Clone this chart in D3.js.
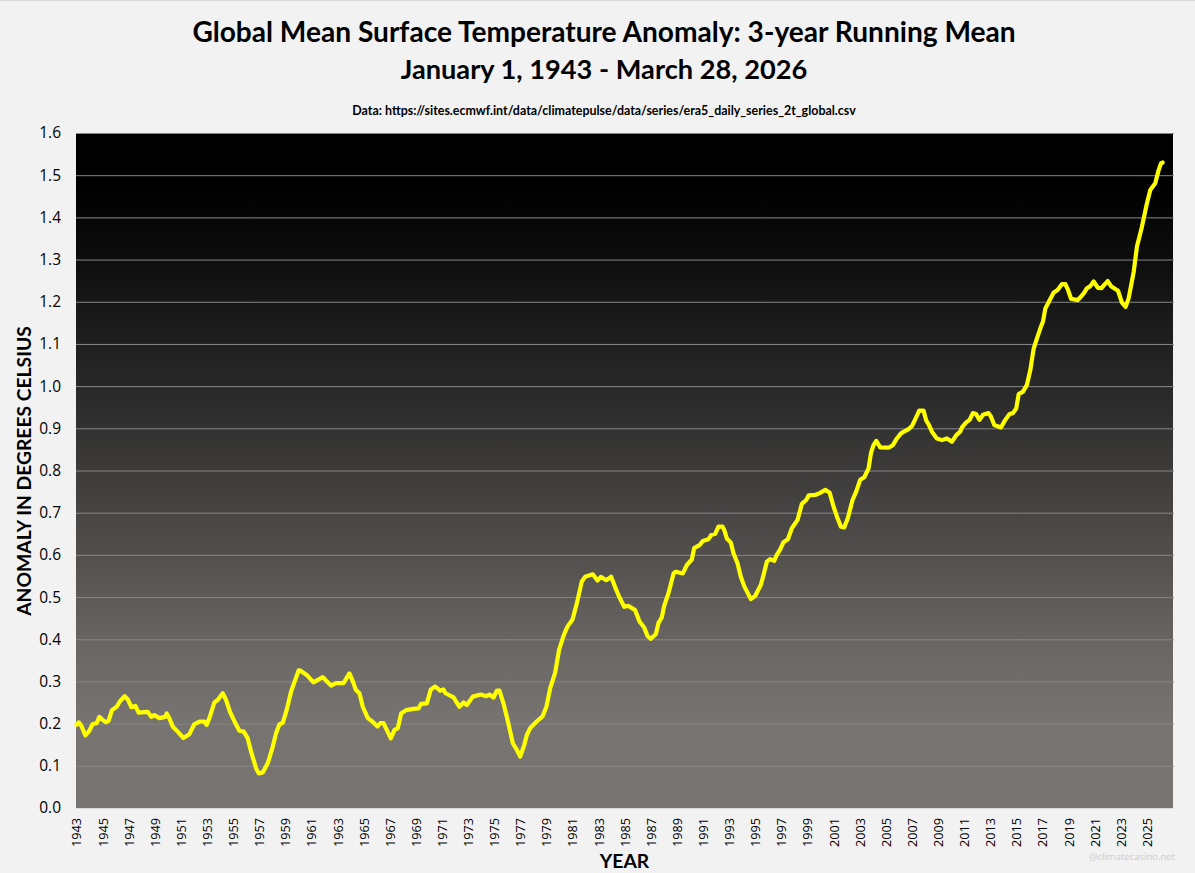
<!DOCTYPE html>
<html>
<head>
<meta charset="utf-8">
<script src="https://cdn.jsdelivr.net/npm/d3@7"></script>
<style>
    html, body { margin: 0; padding: 0; background: #f2f2f2; overflow: hidden; }
    svg { display: block; }
    text { font-family: "Open Sans", sans-serif; fill: #000; }
    .title { font-family: Lato, sans-serif; font-weight: 700; text-anchor: middle; }
    .axisTitle { font-family: Lato, sans-serif; font-weight: 700; font-size: 19.3px; text-anchor: middle; }
</style>
</head>
<body>
<div id="chart"></div>
<script>
// values: decimal year / anomaly in deg C
var years = [
    1943.0, 1943.17, 1943.37, 1943.68, 1943.98, 1944.24, 1944.55, 1944.75, 1945.0, 1945.26, 1945.46, 1945.72,
    1946.08, 1946.33, 1946.69, 1946.92, 1947.2, 1947.51, 1947.76, 1948.45, 1948.73, 1948.96, 1949.35, 1949.8,
    1949.91, 1950.11, 1950.37, 1950.75, 1951.19, 1951.65, 1952.03, 1952.46, 1952.8, 1952.97, 1953.18, 1953.56,
    1953.82, 1954.2, 1954.46, 1954.76, 1955.17, 1955.48, 1955.81, 1956.12, 1956.37, 1956.76, 1956.96, 1957.27,
    1957.65, 1958.03, 1958.29, 1958.54, 1958.8, 1959.1, 1959.44, 1959.75, 1960.02, 1960.13, 1960.69, 1961.15,
    1961.87, 1962.5, 1962.89, 1963.45, 1963.91, 1964.22, 1964.4, 1964.68, 1964.93, 1965.32, 1965.62, 1966.06,
    1966.26, 1966.52, 1967.08, 1967.36, 1967.61, 1967.87, 1968.25, 1968.81, 1969.2, 1969.4, 1969.84, 1970.14,
    1970.48, 1970.86, 1971.11, 1971.27, 1971.88, 1972.34, 1972.65, 1972.9, 1973.36, 1973.97, 1974.38, 1974.64,
    1974.95, 1975.2, 1975.4, 1975.71, 1976.02, 1976.43, 1976.68, 1976.99, 1977.3, 1977.5, 1977.75, 1978.25,
    1978.7, 1979.0, 1979.29, 1979.67, 1979.97, 1980.31, 1980.61, 1981.0, 1981.33, 1981.71, 1981.97, 1982.55,
    1982.91, 1983.17, 1983.58, 1983.96, 1984.27, 1984.6, 1984.96, 1985.29, 1985.8, 1986.13, 1986.49, 1986.74,
    1987.0, 1987.38, 1987.59, 1987.84, 1988.02, 1988.35, 1988.74, 1988.91, 1989.45, 1989.76, 1990.14, 1990.32,
    1990.73, 1990.98, 1991.42, 1991.62, 1991.93, 1992.18, 1992.49, 1992.62, 1992.82, 1993.13, 1993.33, 1993.64,
    1993.89, 1994.15, 1994.66, 1995.0, 1995.43, 1995.63, 1995.89, 1996.14, 1996.45, 1996.65, 1996.91, 1997.16,
    1997.5, 1997.8, 1998.24, 1998.57, 1998.9, 1999.1, 1999.59, 1999.97, 2000.36, 2000.69, 2001.0, 2001.3,
    2001.56, 2001.81, 2002.09, 2002.45, 2002.73, 2003.04, 2003.35, 2003.68, 2003.86, 2004.06, 2004.27, 2004.57,
    2005.21, 2005.54, 2005.85, 2006.16, 2006.74, 2007.0, 2007.25, 2007.56, 2007.89, 2008.1, 2008.3, 2008.53,
    2008.91, 2009.3, 2009.68, 2010.06, 2010.4, 2010.7, 2010.83, 2011.16, 2011.42, 2011.67, 2011.9, 2012.18,
    2012.44, 2012.87, 2013.05, 2013.31, 2013.82, 2014.15, 2014.48, 2014.74, 2014.99, 2015.18, 2015.51, 2015.81,
    2016.07, 2016.32, 2016.58, 2016.84, 2017.04, 2017.22, 2017.47, 2017.86, 2018.16, 2018.5, 2018.75, 2018.96,
    2019.19, 2019.7, 2019.95, 2020.16, 2020.41, 2020.67, 2020.92, 2021.25, 2021.51, 2021.77, 2022.0, 2022.28,
    2022.79, 2023.09, 2023.37, 2023.6, 2023.99, 2024.24, 2024.62, 2025.0, 2025.26, 2025.64, 2025.9, 2026.08, 2026.2
];
var anomalies = [
    .197, .203, .195, .172, .183, .199, .201, .216, .209, .203, .207, .232,
    .240, .253, .265, .258, .239, .242, .226, .228, .216, .220, .213, .216,
    .224, .213, .193, .181, .166, .175, .199, .205, .205, .197, .213, .250,
    .256, .272, .256, .228, .201, .183, .181, .165, .134, .094, .082, .084,
    .106, .145, .177, .198, .202, .232, .276, .303, .326, .326, .314, .298,
    .310, .290, .296, .296, .319, .296, .280, .272, .240, .213, .206, .193,
    .201, .201, .165, .185, .189, .224, .232, .235, .236, .247, .248, .281,
    .288, .278, .281, .272, .262, .240, .250, .244, .264, .269, .265, .269,
    .262, .278, .278, .248, .209, .153, .141, .122, .149, .173, .189, .205,
    .217, .240, .284, .321, .375, .408, .430, .447, .485, .537, .548, .554,
    .539, .548, .540, .548, .523, .499, .477, .479, .469, .442, .428, .408,
    .401, .412, .439, .452, .479, .509, .556, .560, .556, .576, .589, .616,
    .623, .633, .637, .647, .650, .667, .667, .659, .639, .629, .604, .580,
    .548, .526, .495, .503, .529, .552, .584, .590, .586, .600, .613, .630,
    .637, .663, .683, .721, .730, .741, .742, .747, .754, .748, .714, .687,
    .667, .665, .687, .730, .750, .778, .784, .805, .841, .860, .870, .855,
    .854, .860, .876, .888, .898, .905, .921, .942, .942, .918, .908, .892,
    .876, .872, .876, .868, .884, .892, .902, .914, .920, .936, .934, .920,
    .932, .936, .928, .908, .902, .920, .934, .936, .947, .981, .987, 1.003,
    1.038, 1.088, 1.113, 1.137, 1.153, 1.184, 1.199, 1.222, 1.228, 1.242, 1.242, 1.228,
    1.207, 1.204, 1.212, 1.220, 1.232, 1.237, 1.248, 1.233, 1.232, 1.241, 1.249, 1.236,
    1.226, 1.198, 1.188, 1.208, 1.271, 1.331, 1.378, 1.433, 1.465, 1.481, 1.512, 1.528, 1.530
];
var yTicks = [0, .1, .2, .3, .4, .5, .6, .7, .8, .9, 1, 1.1, 1.2, 1.3, 1.4, 1.5, 1.6];
var xTicks = d3.range(1943, 2026, 2);

var width = 1195;
var height = 873;
var margin = ({ top: 133, right: 22, bottom: 65, left: 76 });

var svg = d3.select("#chart").append("svg")
    .attr("width", width)
    .attr("height", height);

// panel background, black at the top fading to warm grey
var grad = svg.append("defs").append("linearGradient")
    .attr("id", "panelFill")
    .attr("x1", 0).attr("y1", 0).attr("x2", 0).attr("y2", 1);
grad.selectAll("stop")
    .data([[0, "#000000"], [0.08, "#000000"], [0.2, "#0f0f0f"], [0.4, "#2c2c2c"], [0.56, "#474543"], [0.77, "#6b6765"], [0.87, "#767371"], [1, "#767371"]])
    .join("stop")
    .attr("offset", d => d[0])
    .attr("stop-color", d => d[1]);

const x = d3.scaleLinear()
    .domain([1943, 2027])
    .range([margin.left + 0.5, width - margin.right]);
const y = d3.scaleLinear()
    .domain([0, 1.6])
    .range([height - margin.bottom, margin.top]);

svg.append("rect")
    .attr("x", 0).attr("y", 0)
    .attr("width", width).attr("height", 1)
    .attr("fill", "#d9d9d9");

svg.append("rect")
    .attr("x", margin.left)
    .attr("y", margin.top)
    .attr("width", width - margin.right - margin.left)
    .attr("height", height - margin.bottom - margin.top)
    .attr("fill", "url(#panelFill)");

// Y axis with the gridlines as its ticks
var yAxis = svg.append("g")
    .attr("transform", `translate(${margin.left},0)`)
    .call(d3.axisLeft(y).tickValues(yTicks).tickFormat(d3.format(".1f")).tickSize(0).tickPadding(15));
yAxis.select(".domain").remove();
yAxis.selectAll("text").style("font-size", "15.5px");
yAxis.selectAll(".tick").filter(d => d > 0).append("line")
    .attr("x1", 0)
    .attr("x2", width - margin.right - margin.left + 1)
    .attr("stroke", "#878787")
    .attr("stroke-width", 1);

// X axis
var xAxis = svg.append("g")
    .attr("transform", `translate(0,${height - margin.bottom})`)
    .call(d3.axisBottom(x).tickValues(xTicks).tickFormat(d3.format("d")).tickSize(0));
xAxis.select(".domain")
    .attr("stroke", "#d9d9d9")
    .attr("d", `M${margin.left},0.5H${width - margin.right}`);
xAxis.selectAll("text")
    .attr("transform", "rotate(-90)")
    .attr("x", -10)
    .attr("y", 0)
    .attr("dy", "0.35em")
    .style("text-anchor", "end")
    .style("font-size", "12.7px");

// the series
var line = d3.line()
    .x(d => x(d))
    .y((d, i) => y(anomalies[i]));
svg.append("path")
    .attr("d", line(years))
    .attr("fill", "none")
    .attr("stroke", "#ffff00")
    .attr("stroke-width", 4.2)
    .attr("stroke-linejoin", "round")
    .attr("stroke-linecap", "round");

// titles
svg.append("text").attr("class", "title")
    .attr("x", 604).attr("y", 42)
    .style("font-size", "28.1px")
    .text("Global Mean Surface Temperature Anomaly: 3-year Running Mean");
svg.append("text").attr("class", "title")
    .attr("x", 604).attr("y", 79)
    .style("font-size", "27.2px")
    .text("January 1, 1943 - March 28, 2026");
svg.append("text")
    .attr("x", 604).attr("y", 115)
    .attr("text-anchor", "middle")
    .style("font-family", "Lato, sans-serif")
    .style("font-weight", "700")
    .style("font-size", "12.45px")
    .text("Data: https://sites.ecmwf.int/data/climatepulse/data/series/era5_daily_series_2t_global.csv");

svg.append("text").attr("class", "axisTitle")
    .attr("transform", "translate(30.5,471) rotate(-90)")
    .text("ANOMALY IN DEGREES CELSIUS");
svg.append("text").attr("class", "axisTitle")
    .attr("x", 624.5).attr("y", 868)
    .text("YEAR");

svg.append("text")
    .attr("x", 1175).attr("y", 860)
    .attr("text-anchor", "end")
    .style("font-size", "9.5px")
    .style("fill", "#cdcdcd")
    .text("@climatecasino.net");
</script>
</body>
</html>
